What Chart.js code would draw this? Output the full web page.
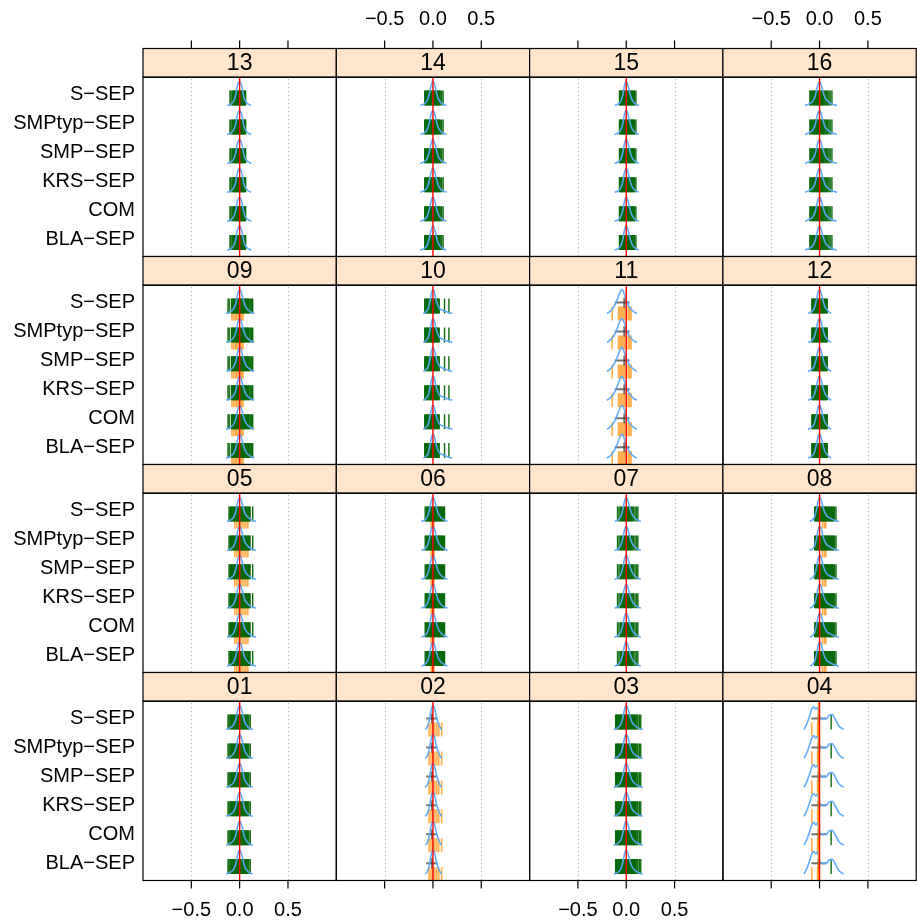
<!DOCTYPE html>
<html>
<head>
<meta charset="utf-8">
<script src="https://cdn.jsdelivr.net/npm/chart.js@4.4.1/dist/chart.umd.min.js"></script>
<style>
    html, body { margin: 0; padding: 0; background: #fff; }
    #wrap { position: relative; width: 917px; height: 923px; overflow: hidden; }
    #wrap canvas { position: absolute; left: 0; top: 0; }
</style>
</head>
<body>
<div id="wrap"></div>
<script>
// Panel order: top row first, as laid out on the page
const panelNames = ['13', '14', '15', '16', '09', '10', '11', '12', '05', '06', '07', '08', '01', '02', '03', '04'];
// Categories from bottom (1) to top (6)
const rowLabels = ['BLA-SEP', 'COM', 'KRS-SEP', 'SMP-SEP', 'SMPtyp-SEP', 'S-SEP'];
const xTicks = [-0.5, 0, 0.5];
const refValue = 0;

// Density curves per panel (x positions, relative heights)
const densX = [
    [-0.13, -0.09, -0.06, -0.04, -0.025, -0.01, 0, 0.01, 0.025, 0.04, 0.06, 0.09, 0.12],
    [-0.13, -0.09, -0.06, -0.04, -0.02, -0.01, 0, 0.012, 0.03, 0.05, 0.07, 0.1, 0.14],
    [-0.12, -0.08, -0.055, -0.035, -0.02, -0.008, 0.002, 0.014, 0.03, 0.05, 0.07, 0.1, 0.13],
    [-0.15, -0.11, -0.07, -0.045, -0.025, -0.01, 0, 0.012, 0.03, 0.055, 0.09, 0.13, 0.18],
    [-0.14, -0.1, -0.065, -0.04, -0.022, -0.01, 0, 0.012, 0.03, 0.055, 0.085, 0.12, 0.15],
    [-0.1, -0.07, -0.045, -0.028, -0.014, -0.004, 0.004, 0.016, 0.035, 0.06, 0.1, 0.15, 0.2],
    [-0.2, -0.16, -0.12, -0.09, -0.07, -0.055, -0.045, -0.03, -0.01, 0.02, 0.05, 0.08, 0.11],
    [-0.12, -0.085, -0.058, -0.038, -0.02, -0.008, 0.002, 0.013, 0.03, 0.05, 0.075, 0.1, 0.12],
    [-0.13, -0.09, -0.06, -0.04, -0.022, -0.01, 0, 0.012, 0.03, 0.055, 0.09, 0.13, 0.17],
    [-0.12, -0.085, -0.058, -0.038, -0.02, -0.008, 0.002, 0.015, 0.032, 0.055, 0.085, 0.12, 0.15],
    [-0.12, -0.085, -0.058, -0.038, -0.02, -0.008, 0.002, 0.015, 0.032, 0.055, 0.085, 0.12, 0.15],
    [-0.1, -0.07, -0.045, -0.028, -0.014, -0.004, 0.006, 0.02, 0.04, 0.07, 0.11, 0.15, 0.2],
    [-0.14, -0.1, -0.065, -0.04, -0.022, -0.01, 0, 0.012, 0.03, 0.05, 0.075, 0.1, 0.135],
    [-0.08, -0.06, -0.04, -0.025, -0.013, -0.005, 0.002, 0.01, 0.02, 0.035, 0.05, 0.07, 0.09],
    [-0.13, -0.09, -0.06, -0.04, -0.022, -0.01, 0, 0.012, 0.03, 0.055, 0.09, 0.13, 0.17],
    [-0.16, -0.13, -0.1, -0.08, -0.06, -0.04, -0.02, 0, 0.03, 0.07, 0.1, 0.13, 0.16, 0.2, 0.25]
];
const densH = [
    [0, 0.06, 0.2, 0.45, 0.8, 0.97, 1, 0.95, 0.76, 0.42, 0.18, 0.06, 0],
    [0, 0.07, 0.2, 0.45, 0.82, 0.96, 1, 0.93, 0.66, 0.34, 0.18, 0.07, 0],
    [0, 0.07, 0.2, 0.46, 0.8, 0.97, 1, 0.9, 0.64, 0.34, 0.17, 0.06, 0],
    [0, 0.07, 0.18, 0.4, 0.75, 0.95, 1, 0.93, 0.66, 0.34, 0.16, 0.06, 0],
    [0, 0.07, 0.19, 0.42, 0.77, 0.95, 1, 0.93, 0.68, 0.34, 0.16, 0.06, 0],
    [0, 0.08, 0.26, 0.58, 0.87, 0.98, 1, 0.87, 0.54, 0.26, 0.14, 0.06, 0],
    [0, 0.12, 0.34, 0.62, 0.84, 0.96, 1, 0.92, 0.68, 0.36, 0.18, 0.07, 0],
    [0, 0.07, 0.2, 0.46, 0.82, 0.97, 1, 0.9, 0.64, 0.34, 0.16, 0.06, 0],
    [0, 0.07, 0.19, 0.42, 0.77, 0.95, 1, 0.93, 0.68, 0.34, 0.16, 0.06, 0],
    [0, 0.07, 0.2, 0.46, 0.82, 0.97, 1, 0.9, 0.64, 0.34, 0.16, 0.06, 0],
    [0, 0.07, 0.2, 0.46, 0.82, 0.97, 1, 0.9, 0.64, 0.34, 0.16, 0.06, 0],
    [0, 0.08, 0.26, 0.58, 0.87, 0.98, 1, 0.87, 0.54, 0.26, 0.14, 0.06, 0],
    [0, 0.07, 0.19, 0.42, 0.77, 0.95, 1, 0.93, 0.68, 0.34, 0.16, 0.06, 0],
    [0, 0.1, 0.34, 0.66, 0.9, 0.98, 1, 0.95, 0.82, 0.54, 0.32, 0.12, 0],
    [0, 0.07, 0.19, 0.42, 0.77, 0.95, 1, 0.93, 0.68, 0.34, 0.16, 0.06, 0],
    [0, 0.25, 0.6, 0.85, 0.95, 0.85, 0.92, 0.55, 0.45, 0.45, 0.6, 0.62, 0.45, 0.15, 0]
];

// Rug values per panel (green and orange marks)
const greenRugs = [
    [-0.1, -0.09, -0.077, -0.068, -0.06, -0.052, -0.047, -0.04, -0.033, -0.027, -0.02, -0.014, -0.008, -0.003, 0.004, 0.009, 0.015, 0.021, 0.027, 0.032, 0.04, 0.048, 0.055, 0.062],
    [-0.085, -0.078, -0.07, -0.062, -0.055, -0.047, -0.04, -0.033, -0.025, -0.018, -0.01, -0.004, 0.003, 0.01, 0.017, 0.024, 0.031, 0.038, 0.045, 0.052, 0.06, 0.068, 0.075, 0.09, 0.105],
    [-0.07, -0.063, -0.055, -0.047, -0.04, -0.032, -0.025, -0.018, -0.01, -0.004, 0.003, 0.01, 0.018, 0.025, 0.032, 0.04, 0.047, 0.055, 0.063, 0.07, 0.078, 0.086, 0.1],
    [-0.1, -0.092, -0.08, -0.072, -0.06, -0.053, -0.045, -0.035, -0.028, -0.02, -0.01, -0.004, 0.004, 0.012, 0.02, 0.03, 0.038, 0.047, 0.056, 0.066, 0.075, 0.085, 0.098, 0.11, 0.128],
    [-0.12, -0.108, -0.085, -0.078, -0.07, -0.062, -0.055, -0.047, -0.04, -0.032, -0.025, -0.017, -0.01, -0.003, 0.004, 0.012, 0.02, 0.027, 0.035, 0.042, 0.05, 0.058, 0.066, 0.074, 0.082, 0.09, 0.098, 0.11, 0.125, 0.135],
    [-0.085, -0.075, -0.065, -0.058, -0.05, -0.04, -0.032, -0.025, -0.017, -0.01, -0.002, 0.006, 0.014, 0.022, 0.03, 0.038, 0.046, 0.055, 0.065, 0.12, 0.165],
    [],
    [-0.08, -0.072, -0.064, -0.056, -0.048, -0.04, -0.032, -0.025, -0.017, -0.01, -0.002, 0.006, 0.014, 0.022, 0.03, 0.038, 0.046, 0.054, 0.062, 0.07, 0.08],
    [-0.11, -0.1, -0.092, -0.084, -0.076, -0.068, -0.06, -0.052, -0.044, -0.036, -0.028, -0.02, -0.012, -0.004, 0.004, 0.012, 0.02, 0.028, 0.036, 0.044, 0.052, 0.06, 0.068, 0.076, 0.084, 0.092, 0.1, 0.108, 0.135],
    [-0.08, -0.07, -0.062, -0.054, -0.046, -0.038, -0.03, -0.022, -0.014, -0.006, 0.002, 0.01, 0.018, 0.026, 0.034, 0.042, 0.05, 0.058, 0.066, 0.074, 0.082, 0.09, 0.1, 0.11, 0.12],
    [-0.09, -0.075, -0.06, -0.05, -0.04, -0.028, -0.018, -0.008, 0.002, 0.012, 0.022, 0.032, 0.042, 0.052, 0.062, 0.075, 0.09, 0.105, 0.12],
    [-0.05, -0.042, -0.034, -0.026, -0.018, -0.01, -0.002, 0.006, 0.014, 0.022, 0.03, 0.038, 0.046, 0.054, 0.062, 0.07, 0.078, 0.086, 0.094, 0.102, 0.11, 0.118, 0.126, 0.134, 0.142, 0.155, 0.17],
    [-0.12, -0.11, -0.1, -0.09, -0.082, -0.074, -0.066, -0.058, -0.05, -0.042, -0.034, -0.026, -0.018, -0.01, -0.002, 0.006, 0.014, 0.022, 0.03, 0.038, 0.046, 0.054, 0.062, 0.07, 0.078, 0.086, 0.095, 0.11],
    [],
    [-0.11, -0.1, -0.092, -0.084, -0.076, -0.068, -0.06, -0.052, -0.044, -0.036, -0.028, -0.02, -0.012, -0.004, 0.004, 0.012, 0.02, 0.028, 0.036, 0.044, 0.052, 0.06, 0.068, 0.076, 0.084, 0.092, 0.1, 0.11, 0.12, 0.135, 0.15],
    [0.12]
];
const orangeRugs = [
    [], [], [], [],
    [-0.08, -0.062, -0.045, -0.03, -0.015, 0.005, 0.022, 0.035],
    [],
    [-0.145, -0.08, -0.065, -0.05, -0.035, -0.02, 0, 0.02, 0.035, 0.05],
    [],
    [-0.05, -0.03, -0.012, 0.005, 0.025, 0.045, 0.065, 0.085],
    [-0.02, -0.005, 0.01],
    [],
    [0.03, 0.05, 0.065],
    [],
    [-0.04, -0.02, 0, 0.02, 0.04, 0.06, 0.09],
    [],
    [-0.08, -0.02, -0.01]
];

// Interval crosses (null where none is visible)
const crossMean = [null, null, null, null, null, null, -0.02, null, null, null, null, null, null, -0.01, null, -0.01];
const crossLo = [null, null, null, null, null, null, -0.12, null, null, null, null, null, null, -0.07, null, -0.085];
const crossHi = [null, null, null, null, null, null, 0.035, null, null, null, null, null, null, 0.04, null, 0.07];
// Extra orange reference line (panel 04 only)
const orangeRef = [null, null, null, null, null, null, null, null, null, null, null, null, null, null, null, -0.012];

// Layout
const W = 917, H = 923;
const colX0 = 143, colW = 193.3, rowY0 = 48.5, rowH = 208, stripH = 28.7;
const FONT = '"Liberation Sans", Arial, sans-serif';

const fmtTick = v => v.toFixed(1).replace('-', '\u2212');

const latticePlugin = {
    id: 'lattice',
    beforeDatasetsDraw(chart, args, opts) {
        const { ctx, chartArea: a, scales: { x } } = chart;
        ctx.save();
        ctx.strokeStyle = '#a0a0a0';
        ctx.lineWidth = 1;
        ctx.setLineDash([1, 3]);
        xTicks.forEach(v => {
            if (v === refValue) return;
            const px = Math.round(x.getPixelForValue(v)) + 0.5;
            ctx.beginPath();
            ctx.moveTo(px, a.top + 2);
            ctx.lineTo(px, a.bottom);
            ctx.stroke();
        });
        ctx.restore();
    },
    afterDraw(chart, args, opts) {
        const { ctx, chartArea: a, scales: { x, y } } = chart;
        ctx.save();
        // strip
        ctx.fillStyle = '#ffe5cc';
        ctx.fillRect(a.left, a.top - stripH, a.width, stripH);
        ctx.strokeStyle = '#000';
        ctx.lineWidth = 1.2;
        ctx.strokeRect(a.left, a.top - stripH, a.width, stripH);
        ctx.strokeRect(a.left, a.top, a.width, a.height);
        ctx.fillStyle = '#000';
        ctx.font = '23px ' + FONT;
        ctx.textAlign = 'center';
        ctx.textBaseline = 'middle';
        ctx.fillText(opts.name, (a.left + a.right) / 2, a.top - stripH / 2 + 1);

        // axes
        ctx.lineWidth = 1.2;
        ctx.font = '20px ' + FONT;
        if (opts.row === 0) {
            const yb = a.top - stripH;
            xTicks.forEach(v => {
                const px = x.getPixelForValue(v);
                ctx.beginPath();
                ctx.moveTo(px, yb - 8);
                ctx.lineTo(px, yb);
                ctx.stroke();
                if (opts.col % 2 === 1) ctx.fillText(fmtTick(v), px, 19);
            });
        }
        if (opts.row === 3) {
            xTicks.forEach(v => {
                const px = x.getPixelForValue(v);
                ctx.beginPath();
                ctx.moveTo(px, a.bottom);
                ctx.lineTo(px, a.bottom + 8);
                ctx.stroke();
                if (opts.col % 2 === 0) ctx.fillText(fmtTick(v), px, 910);
            });
        }
        if (opts.col === 0) {
            ctx.font = '20px ' + FONT;
            ctx.textAlign = 'right';
            rowLabels.forEach((lab, k) => {
                ctx.fillText(lab.replace('-', '\u2212'), a.left - 8, y.getPixelForValue(k + 1));
            });
        }
        ctx.restore();
    }
};

const wrap = document.getElementById('wrap');

panelNames.forEach((name, p) => {
    const row = Math.floor(p / 4), col = p % 4;
    const left = colX0 + col * colW;
    const right = left + colW;
    const top = rowY0 + row * rowH + stripH;
    const bottom = rowY0 + (row + 1) * rowH;

    const canvas = document.createElement('canvas');
    canvas.width = W;
    canvas.height = H;
    wrap.appendChild(canvas);

    const datasets = [];
    // reference line at 0
    datasets.push({
        data: [{ x: refValue, y: 0.4 }, { x: refValue, y: 6.6 }],
        borderColor: '#ff0000', borderWidth: 1.4, pointRadius: 0, order: 0
    });
    if (orangeRef[p] !== null) {
        datasets.push({
            data: [{ x: orangeRef[p], y: 0.4 }, { x: orangeRef[p], y: 6.6 }],
            borderColor: 'rgba(255,140,0,0.75)', borderWidth: 1.4, pointRadius: 0, order: 0.5
        });
    }
    rowLabels.forEach((lab, k) => {
        const cy = k + 1;
        // density
        datasets.push({
            data: densX[p].map((v, j) => ({ x: v, y: cy - 0.38 + densH[p][j] * 0.83 })),
            borderColor: 'rgba(90,170,250,0.95)', borderWidth: 1.6, pointRadius: 0,
            cubicInterpolationMode: 'monotone', order: 1
        });
        // interval cross
        if (crossMean[p] !== null) {
            datasets.push({
                data: [{ x: crossLo[p], y: cy }, { x: crossHi[p], y: cy }],
                borderColor: 'rgba(40,40,40,0.65)', borderWidth: 2, pointRadius: 0, order: 2
            });
            datasets.push({
                data: [{ x: crossMean[p], y: cy }],
                showLine: false, pointStyle: 'line', rotation: 90, pointRadius: 5,
                borderColor: 'rgba(40,40,40,0.65)', pointBorderWidth: 2, order: 2
            });
        }
        // green rug
        if (greenRugs[p].length) {
            datasets.push({
                data: greenRugs[p].map(v => ({ x: v, y: cy - 0.12 })),
                showLine: false, pointStyle: 'line', rotation: 90, pointRadius: 7.5,
                borderColor: 'rgba(0,100,0,0.95)', pointBorderWidth: 1.4, order: 3
            });
        }
        // orange rug
        if (orangeRugs[p].length) {
            datasets.push({
                data: orangeRugs[p].map(v => ({ x: v, y: cy - 0.38 })),
                showLine: false, pointStyle: 'line', rotation: 90, pointRadius: 7,
                borderColor: 'rgba(255,140,0,0.7)', pointBorderWidth: 1.6, order: 4
            });
        }
    });

    new Chart(canvas, {
        type: 'line',
        data: { datasets },
        options: {
            responsive: false,
            animation: false,
            events: [],
            layout: { autoPadding: false, padding: { left: left, top: top, right: W - right, bottom: H - bottom } },
            scales: {
                x: { type: 'linear', min: -1, max: 1, display: false },
                y: { type: 'linear', min: 0.4, max: 6.6, display: false }
            },
            plugins: {
                legend: { display: false },
                tooltip: { enabled: false },
                lattice: { name: name, row: row, col: col }
            }
        },
        plugins: [latticePlugin]
    });
});
</script>
</body>
</html>
